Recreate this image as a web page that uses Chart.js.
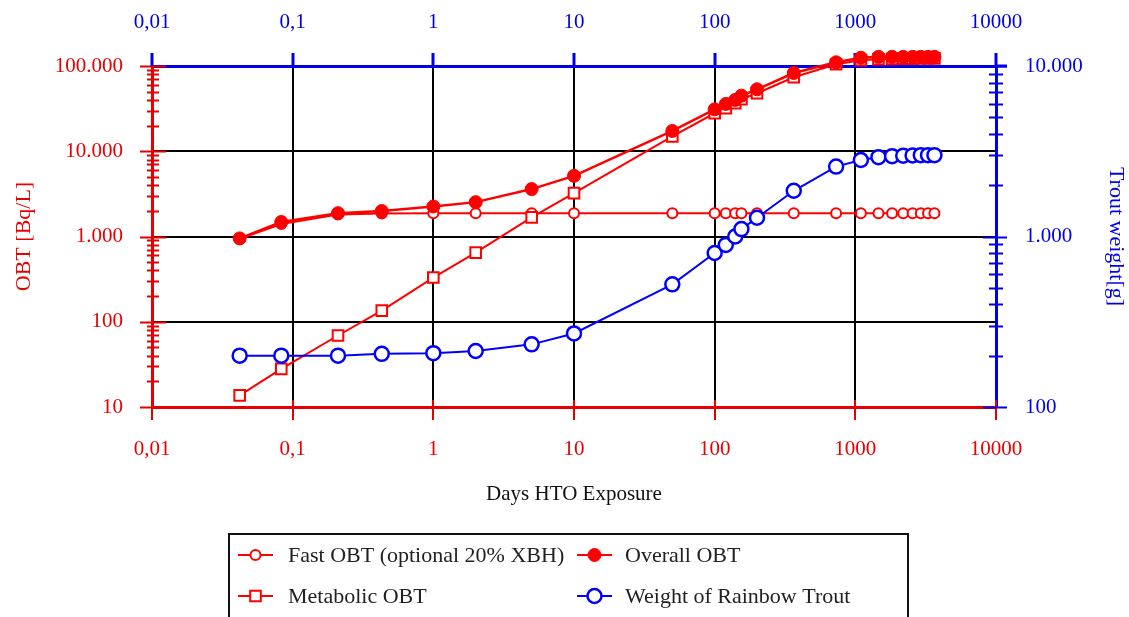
<!DOCTYPE html>
<html>
<head>
<meta charset="utf-8">
<title>OBT in Rainbow Trout</title>
<script src="https://cdn.jsdelivr.net/npm/chart.js@4"></script>
<style>
  html, body { margin: 0; padding: 0; background: #fff; }
  #wrap { position: relative; width: 1129px; height: 617px; }
</style>
</head>
<body>
<div id="wrap"><canvas id="chartObt"></canvas></div>
<script>
// ============================================
// OBT / trout weight vs. days of HTO exposure
// ============================================

const days = [0.042, 0.083, 0.21, 0.43, 1, 2, 5, 10, 50, 100, 120, 140, 155, 200, 365, 730, 1095, 1460, 1825, 2190, 2555, 2920, 3285, 3650];

const fastObt = [940, 1400, 1810, 1860, 1870, 1870, 1870, 1870, 1870, 1870, 1870, 1870, 1870, 1870, 1870, 1870, 1870, 1870, 1870, 1870, 1870, 1870, 1870, 1870];
const metabolicObt = [13.7, 28, 69, 135, 330, 646, 1675, 3230, 14900, 27900, 32000, 36600, 40800, 47900, 73800, 105000, 117000, 120000, 121000, 122000, 122000, 123000, 123000, 123000];
const overallObt = [950, 1480, 1880, 1990, 2250, 2530, 3600, 5150, 17300, 31000, 35900, 40000, 44900, 53300, 82800, 110500, 125000, 128000, 128000, 128000, 128000, 128000, 128000, 128000];
const troutWeight = [200, 200, 200, 205, 207, 213, 233, 270, 524, 800, 893, 1000, 1105, 1288, 1854, 2570, 2811, 2920, 2960, 2980, 2990, 3000, 3000, 3000];

const xTicks = [0.01, 0.1, 1, 10, 100, 1000, 10000];
const xTickLabels = ['0,01', '0,1', '1', '10', '100', '1000', '10000'];
const yTicks = [10, 100, 1000, 10000, 100000];
const yTickLabels = ['10', '100', '1.000', '10.000', '100.000'];
const y2Ticks = [100, 1000, 10000];
const y2TickLabels = ['100', '1.000', '10.000'];

const RED = '#ff0000';
const AXIS_RED = '#e60000';
const BLUE = '#0000ff';
const AXIS_BLUE = '#0000e6';
const FONT = "'Liberation Serif', 'Times New Roman', serif";

const toPoints = (ys) => days.map((d, i) => ({ x: d, y: ys[i] }));

const legendItems = [
  { label: 'Fast OBT (optional 20% XBH)', ds: 0, col: 0, row: 0 },
  { label: 'Overall OBT', ds: 2, col: 1, row: 0 },
  { label: 'Metabolic OBT', ds: 1, col: 0, row: 1 },
  { label: 'Weight of Rainbow Trout', ds: 3, col: 1, row: 1 },
];

// minor tick values for a log axis between two decades
function minorTicks(from, to) {
  const out = [];
  for (let d = from; d < to; d *= 10) {
    for (let k = 2; k <= 9; k++) out.push(d * k);
  }
  return out;
}

const tickMarks = {
  id: 'tickMarks',
  beforeDatasetsDraw(chart) {
    const { ctx, chartArea, scales } = chart;
    const { left, right, top, bottom } = chartArea;
    ctx.save();
    ctx.lineWidth = 2;

    ctx.strokeStyle = AXIS_RED;
    ctx.beginPath();
    yTicks.forEach((v) => {
      const y = Math.round(scales.y.getPixelForValue(v)) + 0.5;
      ctx.moveTo(left - 12, y);
      ctx.lineTo(left + 14, y);
    });
    minorTicks(10, 100000).forEach((v) => {
      const y = Math.round(scales.y.getPixelForValue(v)) + 0.5;
      ctx.moveTo(left - 5, y);
      ctx.lineTo(left + 7, y);
    });
    xTicks.forEach((v) => {
      const x = Math.round(scales.x.getPixelForValue(v));
      ctx.moveTo(x, bottom - 7);
      ctx.lineTo(x, bottom + 13);
    });
    ctx.moveTo(left, bottom);
    ctx.lineTo(left, bottom + 13);
    ctx.stroke();

    ctx.strokeStyle = AXIS_BLUE;
    ctx.beginPath();
    y2Ticks.forEach((v) => {
      const y = Math.round(scales.y2.getPixelForValue(v)) + 0.5;
      ctx.moveTo(right - 13, y);
      ctx.lineTo(right + 11, y);
    });
    minorTicks(100, 10000).forEach((v) => {
      const y = Math.round(scales.y2.getPixelForValue(v)) + 0.5;
      ctx.moveTo(right - 7, y);
      ctx.lineTo(right + 7, y);
    });
    ctx.stroke();

    ctx.lineWidth = 3;
    ctx.beginPath();
    xTicks.forEach((v) => {
      const x = Math.round(scales.x2.getPixelForValue(v));
      ctx.moveTo(x, top - 13);
      ctx.lineTo(x, top);
    });
    ctx.moveTo(right + 1, top);
    ctx.lineTo(right + 11, top);
    ctx.stroke();
    ctx.restore();
  },
};

const boxLegend = {
  id: 'boxLegend',
  afterDraw(chart) {
    const { ctx } = chart;
    ctx.save();
    ctx.strokeStyle = '#111';
    ctx.lineWidth = 2;
    ctx.strokeRect(229, 534, 679, 100);

    ctx.font = '22px ' + FONT;
    ctx.textBaseline = 'middle';
    ctx.textAlign = 'left';
    legendItems.forEach((item) => {
      const ds = chart.data.datasets[item.ds];
      const x0 = item.col === 0 ? 238 : 577;
      const y = item.row === 0 ? 555 : 596;
      ctx.strokeStyle = ds.borderColor;
      ctx.lineWidth = 2;
      ctx.beginPath();
      ctx.moveTo(x0, y);
      ctx.lineTo(x0 + 35, y);
      ctx.stroke();
      ctx.fillStyle = ds.pointBackgroundColor;
      ctx.strokeStyle = ds.pointBorderColor;
      ctx.lineWidth = ds.pointBorderWidth;
      Chart.helpers.drawPoint(ctx, {
        pointStyle: ds.pointStyle,
        radius: ds.pointRadius,
        borderWidth: ds.pointBorderWidth,
        rotation: 0,
      }, x0 + 17.5, y);
      ctx.fillStyle = '#222';
      ctx.fillText(item.label, item.col === 0 ? 288 : 625, y + 1);
    });
    ctx.restore();
  },
};

const fixedSize = (size) => (scale) => {
  if (scale.isHorizontal()) scale.height = size;
  else scale.width = size;
};

const setTicks = (values) => (scale) => {
  scale.ticks = values.map((v) => ({ value: v }));
};

const hideEdges = (lo, hi) => (ctx) =>
  ctx.tick && (ctx.tick.value === lo || ctx.tick.value === hi) ? 'rgba(0,0,0,0)' : '#000';

const ctx = document.getElementById('chartObt');

// lower "order" is drawn on top: trout weight > overall > metabolic > fast
// a large hover radius keeps the points just above the top axis from being skipped
new Chart(ctx, {
  type: 'line',
  data: {
    datasets: [
      {
        label: 'Fast OBT (optional 20% XBH)',
        data: toPoints(fastObt),
        yAxisID: 'y',
        borderColor: RED,
        borderWidth: 2,
        pointStyle: 'circle',
        pointRadius: 5,
        pointHoverRadius: 20,
        pointBorderWidth: 2,
        pointBorderColor: RED,
        pointBackgroundColor: '#fff',
        order: 3,
        clip: false,
      },
      {
        label: 'Metabolic OBT',
        data: toPoints(metabolicObt),
        yAxisID: 'y',
        borderColor: RED,
        borderWidth: 2,
        pointStyle: 'rect',
        pointRadius: 7.5,
        pointHoverRadius: 20,
        pointBorderWidth: 2,
        pointBorderColor: RED,
        pointBackgroundColor: '#fff',
        order: 2,
        clip: false,
      },
      {
        label: 'Overall OBT',
        data: toPoints(overallObt),
        yAxisID: 'y',
        borderColor: RED,
        borderWidth: 2.5,
        pointStyle: 'circle',
        pointRadius: 6.5,
        pointHoverRadius: 20,
        pointBorderWidth: 1,
        pointBorderColor: RED,
        pointBackgroundColor: RED,
        order: 1,
        clip: false,
      },
      {
        label: 'Weight of Rainbow Trout',
        data: toPoints(troutWeight),
        yAxisID: 'y2',
        borderColor: BLUE,
        borderWidth: 2,
        pointStyle: 'circle',
        pointRadius: 7,
        pointHoverRadius: 20,
        pointBorderWidth: 2.5,
        pointBorderColor: BLUE,
        pointBackgroundColor: '#fff',
        order: 0,
        clip: false,
      },
    ],
  },
  options: {
    responsive: true,
    maintainAspectRatio: false,
    animation: false,
    events: [],
    layout: { padding: 0 },
    elements: { line: { tension: 0 } },
    plugins: { legend: { display: false }, tooltip: { enabled: false } },
    scales: {
      x: {
        type: 'logarithmic',
        position: 'bottom',
        min: 0.01,
        max: 10000,
        afterBuildTicks: setTicks(xTicks),
        afterFit: fixedSize(210),
        ticks: {
          callback: (v, i) => xTickLabels[i],
          color: AXIS_RED,
          font: { family: FONT, size: 21 },
          padding: 30,
          maxRotation: 0,
          autoSkip: false,
        },
        grid: { color: hideEdges(0.01, 10000), lineWidth: 2, drawTicks: false },
        border: { color: AXIS_RED, width: 3 },
        title: {
          display: true,
          text: 'Days HTO Exposure',
          color: '#111',
          font: { family: FONT, size: 21 },
          padding: { top: 0, bottom: 110 },
        },
      },
      x2: {
        type: 'logarithmic',
        position: 'top',
        min: 0.01,
        max: 10000,
        afterBuildTicks: setTicks(xTicks),
        afterFit: fixedSize(66),
        ticks: {
          callback: (v, i) => xTickLabels[i],
          color: AXIS_BLUE,
          font: { family: FONT, size: 21 },
          padding: 31,
          maxRotation: 0,
          autoSkip: false,
        },
        grid: { drawOnChartArea: false, drawTicks: false },
        border: { color: AXIS_BLUE, width: 3 },
      },
      y: {
        type: 'logarithmic',
        position: 'left',
        min: 10,
        max: 100000,
        afterBuildTicks: setTicks(yTicks),
        afterFit: fixedSize(152),
        ticks: {
          callback: (v, i) => yTickLabels[i],
          color: AXIS_RED,
          font: { family: FONT, size: 21 },
          padding: 29,
          autoSkip: false,
        },
        grid: { color: hideEdges(10, 100000), lineWidth: 2, drawTicks: false },
        border: { color: AXIS_RED, width: 3 },
        title: {
          display: true,
          text: 'OBT [Bq/L]',
          color: AXIS_RED,
          font: { family: FONT, size: 22 },
          padding: { top: 11, bottom: 0 },
        },
      },
      y2: {
        type: 'logarithmic',
        position: 'right',
        min: 100,
        max: 10000,
        afterBuildTicks: setTicks(y2Ticks),
        afterFit: fixedSize(133),
        ticks: {
          callback: (v, i) => y2TickLabels[i],
          color: AXIS_BLUE,
          font: { family: FONT, size: 21 },
          padding: 29,
          autoSkip: false,
        },
        grid: { drawOnChartArea: false, drawTicks: false },
        border: { color: AXIS_BLUE, width: 3 },
        title: {
          display: true,
          text: 'Trout weight[g]',
          color: AXIS_BLUE,
          font: { family: FONT, size: 22 },
          padding: { top: 0, bottom: 0 },
        },
      },
    },
  },
  plugins: [tickMarks, boxLegend],
});
</script>
</body>
</html>
